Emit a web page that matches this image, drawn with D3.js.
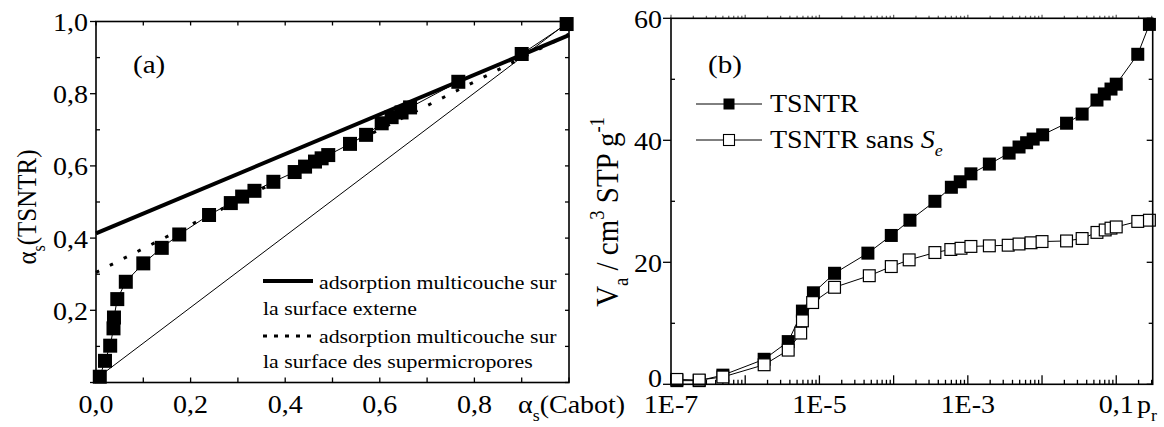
<!DOCTYPE html>
<html>
<head>
<meta charset="utf-8">
<script src="https://cdn.jsdelivr.net/npm/d3@7"></script>
<style>
  body { margin: 0; background: #fff; }
  svg { display: block; }
  svg text, svg tspan { font-family: 'Liberation Serif', 'DejaVu Serif', serif; fill: #000; }
</style>
</head>
<body>
<svg id="chart" width="1164" height="427" font-family="Liberation Serif, DejaVu Serif, serif"></svg>
<script>
// ---------- Panel (a): alpha-s plot, TSNTR vs Cabot reference ----------
const asCabot  = [0.008, 0.019, 0.030, 0.037, 0.038, 0.045, 0.063, 0.100, 0.139, 0.176, 0.239, 0.285, 0.309, 0.335, 0.375, 0.420, 0.442, 0.463, 0.477, 0.491, 0.537, 0.571, 0.604, 0.625, 0.646, 0.664, 0.766, 0.900, 0.995];
const asTSNTR  = [0.016, 0.060, 0.102, 0.150, 0.180, 0.231, 0.279, 0.330, 0.373, 0.410, 0.464, 0.497, 0.515, 0.531, 0.556, 0.583, 0.598, 0.612, 0.621, 0.630, 0.661, 0.686, 0.718, 0.735, 0.748, 0.762, 0.833, 0.910, 0.993];
// straight lines given as [value at x=0, value at x=1]
const fitExterne    = [0.413, 0.962];  // multilayer adsorption, external surface
const fitSupermicro = [0.305, 0.965];  // multilayer adsorption, supermicropore surface
const diagonal      = [0.010, 1.000];
const aTicksMajor = [0, 0.2, 0.4, 0.6, 0.8, 1.0];
const aXLabels = ["0,0", "0,2", "0,4", "0,6", "0,8"];
const aYLabels = ["0,2", "0,4", "0,6", "0,8", "1,0"];
const legendA = [
  ["adsorption multicouche sur", "la surface externe"],
  ["adsorption multicouche sur", "la surface des supermicropores"]
];

// ---------- Panel (b): adsorption isotherms ----------
const prFilled = [1.2e-7, 2.4e-7, 5.0e-7, 1.8e-6, 3.8e-6, 5.9e-6, 8.3e-6, 1.6e-5, 4.5e-5, 9.3e-5, 1.66e-4, 3.6e-4, 6.0e-4, 7.9e-4, 1.1e-3, 1.95e-3, 3.6e-3, 4.9e-3, 6.2e-3, 7.6e-3, 1.02e-2, 2.14e-2, 3.47e-2, 5.5e-2, 6.9e-2, 8.5e-2, 0.1, 0.195, 0.28];
const vaTSNTR  = [0.6, 0.6, 1.5, 4.1, 7.0, 12.0, 15.0, 18.2, 21.5, 24.4, 26.9, 30.0, 32.3, 33.2, 34.5, 36.1, 37.9, 38.9, 39.6, 40.2, 40.9, 42.8, 44.3, 46.6, 47.6, 48.4, 49.2, 54.1, 59.0];
const prOpen   = [1.2e-7, 2.4e-7, 5.0e-7, 1.8e-6, 3.8e-6, 5.6e-6, 5.9e-6, 8.1e-6, 1.6e-5, 4.7e-5, 9.3e-5, 1.62e-4, 3.6e-4, 5.9e-4, 8.1e-4, 1.1e-3, 1.95e-3, 3.5e-3, 4.9e-3, 7.1e-3, 1.0e-2, 2.14e-2, 3.47e-2, 5.5e-2, 7.1e-2, 8.5e-2, 0.1, 0.195, 0.28];
const vaSansSe = [0.8, 0.7, 1.2, 3.2, 5.6, 8.4, 10.4, 13.4, 15.9, 17.8, 19.3, 20.4, 21.6, 22.1, 22.3, 22.6, 22.7, 22.8, 23.0, 23.2, 23.4, 23.5, 23.9, 24.9, 25.3, 25.6, 25.8, 26.7, 26.9];
const bXDomain = [1e-7, 0.31];
const bXLabelVals = [1e-7, 1e-5, 1e-3, 0.1];
const bXLabels = ["1E-7", "1E-5", "1E-3", "0,1"];
const bYTicks = [0, 20, 40, 60];
const bYLabels = ["0", "20", "40", "60"];
const seriesNames = ["TSNTR", "TSNTR sans "];

// ---------- helpers ----------
const SX = 1.12;           // horizontal glyph widening of the serif face
const FONT = "Liberation Serif, DejaVu Serif, serif";
const svg = d3.select("#chart");

function richText(parent, x, y, parts, size, anchor, rotate) {
  const t = parent.append("text")
    .attr("font-family", FONT)
    .attr("font-size", size)
    .attr("text-anchor", anchor || "start")
    .attr("transform", `translate(${x},${y}) scale(${SX},1)` + (rotate ? " rotate(-90)" : ""));
  let shift = 0;
  parts.forEach(p => {
    const s = t.append("tspan").text(p.t);
    let target = 0, fs = size;
    if (p.sub) { target = size * 0.32; fs = size * 0.64; }
    if (p.sup) { target = -size * 0.42; fs = size * 0.64; }
    s.attr("font-size", fs).attr("dy", target - shift);
    if (p.italic) s.attr("font-style", "italic");
    shift = target;
  });
  return t;
}

function frame(g, x0, x1, y0, y1) {
  g.append("rect").attr("x", x0).attr("y", y0).attr("width", x1 - x0).attr("height", y1 - y0)
    .attr("fill", "none").attr("stroke", "#000").attr("stroke-width", 1.6);
}

// ================= Panel (a) =================
const xA = d3.scaleLinear().domain([0, 1]).range([96, 569]);
const yA = d3.scaleLinear().domain([0, 1]).range([382.5, 21.5]);
const gA = svg.append("g");

// ticks
const aMinor = d3.range(0, 1.0001, 0.1);
const tickA = gA.append("g").attr("stroke", "#000").attr("stroke-width", 1.3);
aMinor.forEach(v => {
  const major = aTicksMajor.some(m => Math.abs(m - v) < 1e-6);
  tickA.append("line").attr("x1", xA(v)).attr("x2", xA(v)).attr("y1", yA(0)).attr("y2", yA(0) - 5);
  tickA.append("line").attr("x1", xA(v)).attr("x2", xA(v)).attr("y1", yA(1)).attr("y2", yA(1) + 4);
  tickA.append("line").attr("x1", xA(1)).attr("x2", xA(1) - 4).attr("y1", yA(v)).attr("y2", yA(v));
  if (major) tickA.append("line").attr("x1", xA(0)).attr("x2", xA(0) - 6).attr("y1", yA(v)).attr("y2", yA(v));
  else tickA.append("line").attr("x1", xA(0)).attr("x2", xA(0) + 4).attr("y1", yA(v)).attr("y2", yA(v));
});

// reference lines
const lineFrom = c => d3.line()([[xA(0), yA(c[0])], [xA(1), yA(c[1])]]);
gA.append("path").attr("d", lineFrom(diagonal)).attr("stroke", "#000").attr("stroke-width", 1).attr("fill", "none");
gA.append("path").attr("d", lineFrom(fitSupermicro)).attr("stroke", "#000").attr("stroke-width", 3)
  .attr("stroke-dasharray", "3.5,12").attr("fill", "none");
gA.append("path").attr("d", lineFrom(fitExterne)).attr("stroke", "#000").attr("stroke-width", 4).attr("fill", "none");

// data
const ptsA = asCabot.map((v, i) => [v, asTSNTR[i]]);
gA.append("path").attr("d", d3.line().x(d => xA(d[0])).y(d => yA(d[1]))(ptsA))
  .attr("stroke", "#000").attr("stroke-width", 1).attr("fill", "none");
const sqA = 14;
gA.selectAll("rect.pa").data(ptsA).join("rect").attr("class", "pa")
  .attr("x", d => xA(d[0]) - sqA / 2).attr("y", d => yA(d[1]) - sqA / 2)
  .attr("width", sqA).attr("height", sqA).attr("fill", "#000");

frame(gA, xA(0), xA(1), yA(1), yA(0));

// tick labels and titles
aXLabels.forEach((l, i) => richText(gA, xA(aTicksMajor[i]), 413, [{ t: l }], 25, "middle"));
aYLabels.forEach((l, i) => richText(gA, 88, yA(aTicksMajor[i + 1]) + 9.5, [{ t: l }], 25, "end"));
richText(gA, 518, 413, [{ t: "α" }, { t: "s", sub: true }, { t: "(Cabot)" }], 25, "start");
richText(gA, 36, 207, [{ t: "α" }, { t: "s", sub: true }, { t: "(TSNTR)" }], 25, "middle", true);
richText(gA, 133, 73, [{ t: "(a)" }], 26, "start");

// legend (a)
gA.append("line").attr("x1", 263).attr("x2", 313).attr("y1", 281).attr("y2", 281)
  .attr("stroke", "#000").attr("stroke-width", 4);
richText(gA, 319, 289, [{ t: legendA[0][0] }], 19.5);
richText(gA, 263, 315, [{ t: legendA[0][1] }], 19.5);
gA.append("line").attr("x1", 263).attr("x2", 311).attr("y1", 336).attr("y2", 336)
  .attr("stroke", "#000").attr("stroke-width", 3).attr("stroke-dasharray", "4,7");
richText(gA, 319, 343, [{ t: legendA[1][0] }], 19.5);
richText(gA, 263, 368, [{ t: legendA[1][1] }], 19.5);

// ================= Panel (b) =================
const xB = d3.scaleLog().domain(bXDomain).range([671, 1152.7]);
const yB = d3.scaleLinear().domain([0, 60]).range([384.3, 18.3]);
const gB = svg.append("g");

const tickB = gB.append("g").attr("stroke", "#000").attr("stroke-width", 1.3);
xB.ticks().filter(v => v >= bXDomain[0] && v <= bXDomain[1]).forEach(v => {
  const lg = Math.log10(v);
  const major = Math.abs(lg - Math.round(lg)) < 1e-6;
  tickB.append("line").attr("x1", xB(v)).attr("x2", xB(v))
    .attr("y1", yB(0)).attr("y2", yB(0) - (major ? 9 : 4.5));
  tickB.append("line").attr("x1", xB(v)).attr("x2", xB(v)).attr("stroke", "#666")
    .attr("y1", yB(60)).attr("y2", yB(60) - (major ? 3.5 : 2.5));
});
d3.range(0, 61, 10).forEach(v => {
  const major = v % 20 === 0;
  if (major) tickB.append("line").attr("x1", xB.range()[0]).attr("x2", xB.range()[0] - 8).attr("y1", yB(v)).attr("y2", yB(v));
  else tickB.append("line").attr("x1", xB.range()[0]).attr("x2", xB.range()[0] + 4).attr("y1", yB(v)).attr("y2", yB(v));
  tickB.append("line").attr("x1", xB.range()[1]).attr("x2", xB.range()[1] - (major ? 6 : 4)).attr("y1", yB(v)).attr("y2", yB(v));
});

const lineB = d3.line().x(d => xB(d[0])).y(d => yB(d[1]));
const ptsFilled = prFilled.map((p, i) => [p, vaTSNTR[i]]);
const ptsOpen = prOpen.map((p, i) => [p, vaSansSe[i]]);
gB.append("path").attr("d", lineB(ptsFilled)).attr("stroke", "#000").attr("stroke-width", 1).attr("fill", "none");
gB.append("path").attr("d", lineB(ptsOpen)).attr("stroke", "#000").attr("stroke-width", 1).attr("fill", "none");
const sqB = 13;
gB.selectAll("rect.pf").data(ptsFilled).join("rect").attr("class", "pf")
  .attr("x", d => xB(d[0]) - sqB / 2).attr("y", d => yB(d[1]) - sqB / 2)
  .attr("width", sqB).attr("height", sqB).attr("fill", "#000");
gB.selectAll("rect.po").data(ptsOpen).join("rect").attr("class", "po")
  .attr("x", d => xB(d[0]) - sqB / 2 + 0.6).attr("y", d => yB(d[1]) - sqB / 2 + 0.6)
  .attr("width", sqB - 1.2).attr("height", sqB - 1.2).attr("fill", "#fff")
  .attr("stroke", "#000").attr("stroke-width", 1.2);

frame(gB, xB.range()[0], xB.range()[1], yB(60), yB(0));

bXLabelVals.forEach((v, i) => richText(gB, xB(v), 413, [{ t: bXLabels[i] }], 25, "middle"));
richText(gB, 1137, 413, [{ t: "p" }, { t: "r", sub: true }], 25, "start");
// the zero label sits a little high so it clears the "1E-7" label below it
bYTicks.forEach((v, i) => richText(gB, 662, Math.min(yB(v) + 9.5, 387), [{ t: bYLabels[i] }], 25, "end"));
richText(gB, 618, 212, [
  { t: "V" }, { t: "a", sub: true }, { t: " / cm" }, { t: "3", sup: true },
  { t: " STP g" }, { t: "-1", sup: true }
], 29, "middle", true);
richText(gB, 708, 73, [{ t: "(b)" }], 26, "start");

// legend (b)
[[104, true], [140, false]].forEach(([ly, filled], i) => {
  gB.append("line").attr("x1", 696).attr("x2", 762).attr("y1", ly).attr("y2", ly)
    .attr("stroke", "#000").attr("stroke-width", 1);
  const m = 11;
  gB.append("rect").attr("x", 729 - m / 2).attr("y", ly - m / 2).attr("width", m).attr("height", m)
    .attr("fill", filled ? "#000" : "#fff").attr("stroke", "#000").attr("stroke-width", filled ? 0 : 1.1);
  const parts = [{ t: seriesNames[i] }];
  if (!filled) parts.push({ t: "S", italic: true }, { t: "e", sub: true, italic: true });
  richText(gB, 770, ly + 8, parts, 25, "start");
});
</script>
</body>
</html>
